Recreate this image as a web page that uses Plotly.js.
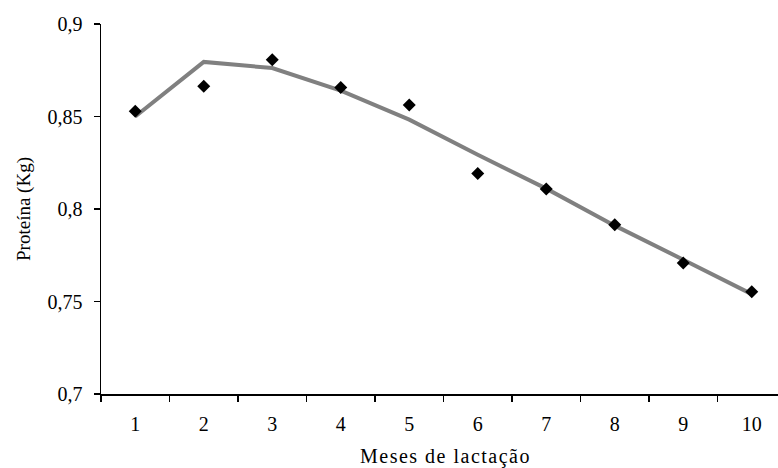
<!DOCTYPE html>
<html>
<head>
<meta charset="utf-8">
<script src="https://cdn.plot.ly/plotly-3.0.1.min.js"></script>
<style>
html,body{margin:0;padding:0;background:#fff;}
#chart{width:778px;height:468px;}
#chart .xtitle{letter-spacing:1.5px;transform:translateX(6px);}
</style>
</head>
<body>
<div id="chart"></div>
<script>
const months = [1, 2, 3, 4, 5, 6, 7, 8, 9, 10];
const observed = [0.8528, 0.8663, 0.8807, 0.8657, 0.8562, 0.8192, 0.8108, 0.7915, 0.7708, 0.7553];
const fitted = [0.8500, 0.8795, 0.8762, 0.8640, 0.8483, 0.8293, 0.8110, 0.7910, 0.7726, 0.7540];
const yTickVals = [0.7, 0.75, 0.8, 0.85, 0.9];
const yTickText = ["0,7", "0,75", "0,8", "0,85", "0,9"];
const xTickText = ["1", "2", "3", "4", "5", "6", "7", "8", "9", "10"];

const font = "Liberation Serif";

const traces = [
  {
    x: months, y: fitted, type: "scatter", mode: "lines",
    line: {color: "#808080", width: 4}, hoverinfo: "skip", showlegend: false
  },
  {
    x: months, y: observed, type: "scatter", mode: "markers",
    marker: {symbol: "diamond", color: "#000", size: 10}, showlegend: false
  }
];

const layout = {
  width: 778, height: 468,
  margin: {l: 101, r: 0, t: 24, b: 74},
  paper_bgcolor: "#fff", plot_bgcolor: "#fff",
  font: {family: font, color: "#000", size: 20},
  showlegend: false,
  xaxis: {
    range: [0.5, 10.383], autorange: false,
    tickmode: "array", tickvals: months, ticktext: xTickText,
    ticks: "", showgrid: false, zeroline: false,
    showline: true, linecolor: "#000", linewidth: 1.5,
    tickfont: {family: font, size: 20},
    ticklabelstandoff: 11,
    minor: {ticks: "outside", tick0: 0.5, dtick: 1, ticklen: 6, tickwidth: 1.5, tickcolor: "#000", showgrid: false},
    title: {text: "Meses de lactação", font: {family: font, size: 20}, standoff: 16},
    automargin: false
  },
  yaxis: {
    range: [0.7, 0.9], autorange: false,
    tickmode: "array", tickvals: yTickVals, ticktext: yTickText,
    ticks: "outside", ticklen: 6, tickwidth: 1.5, tickcolor: "#000",
    showgrid: false, zeroline: false,
    showline: true, linecolor: "#000", linewidth: 1.5,
    tickfont: {family: font, size: 20},
    ticklabelstandoff: 7,
    title: {text: "Proteína (Kg)", font: {family: font, size: 19}, standoff: 12},
    automargin: false
  }
};

Plotly.newPlot("chart", traces, layout, {displayModeBar: false, staticPlot: true});
</script>
</body>
</html>
